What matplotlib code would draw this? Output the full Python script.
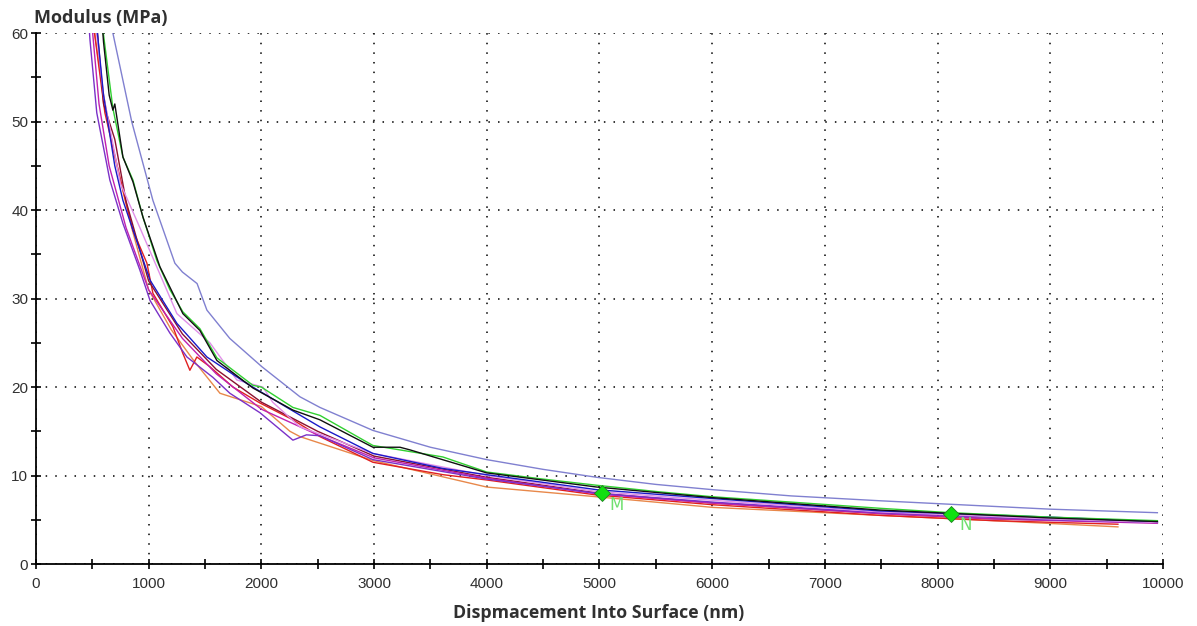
import matplotlib.pyplot as plt
from matplotlib.ticker import MultipleLocator

# curves (x in nm, modulus in MPa)
periwinkle_x = [640, 683, 850, 1038, 1233, 1300, 1430, 1517, 1720, 2005, 2343, 2520, 2990, 3500, 4000, 4500, 4977, 5500, 6007, 6700, 7489, 8200, 9000, 9950]
periwinkle_y = [64, 60, 50, 41.1, 34, 33, 31.7, 28.7, 25.5, 22.3, 18.9, 17.7, 15.1, 13.2, 11.8, 10.7, 9.8, 9.0, 8.4, 7.7, 7.15, 6.7, 6.2, 5.8]

green_x = [560, 595, 683, 772, 861, 950, 1073, 1189, 1304, 1455, 1606, 1925, 2000, 2280, 2520, 2990, 3611, 4000, 4500, 4977, 5500, 6007, 6700, 7489, 8120, 9000, 9950]
green_y = [64, 60.3, 51.5, 46, 43.4, 39.2, 34.3, 31, 28.5, 26.6, 23.3, 20.2, 20.0, 17.7, 16.8, 13.4, 12.1, 10.4, 9.6, 8.9, 8.2, 7.6, 7.0, 6.3, 5.8, 5.3, 4.9]

black_x = [570, 600, 650, 683, 700, 772, 861, 950, 1100, 1304, 1455, 1606, 1925, 2280, 2520, 2990, 3230, 3319, 4000, 4977, 6007, 7489, 9000, 9950]
black_y = [64, 59, 53, 51.3, 52, 46, 43.2, 39.2, 33.6, 28.3, 26.4, 23, 19.9, 17.4, 16.3, 13.2, 13.2, 12.9, 10.3, 8.7, 7.5, 6.1, 5.2, 4.8]

blue_x = [530, 600, 700, 772, 1012, 1251, 1517, 1872, 2227, 2520, 2990, 3611, 4000, 4977, 6007, 7489, 9000, 9950]
blue_y = [62, 53, 45, 41.1, 32.1, 27.2, 23.4, 20.4, 17.7, 15.5, 12.5, 10.8, 10.1, 8.4, 7.4, 6.0, 5.3, 4.8]

purple_x = [470, 480, 540, 656, 772, 923, 1012, 1189, 1340, 1570, 1721, 1988, 2280, 2400, 2520, 2990, 4000, 4977, 6007, 7489, 9000, 9950]
purple_y = [61, 59.2, 51, 43.4, 38.5, 33.2, 29.8, 26.1, 23.4, 21.1, 19.3, 17.1, 14, 14.6, 14.5, 11.8, 9.6, 8.0, 7.0, 5.8, 5.0, 4.7]

violet_x = [520, 600, 750, 923, 1251, 1544, 1783, 2014, 2100, 2343, 2990, 4000, 4977, 6007, 7489, 9000, 9950]
violet_y = [62, 53, 43, 38, 28.3, 25, 20.8, 20, 18.3, 15.5, 12.5, 10.0, 8.2, 7.2, 5.9, 5.1, 4.7]

magenta_x = [500, 560, 650, 800, 1000, 1300, 1600, 2000, 2500, 3000, 4000, 5000, 6000, 7500, 8500, 9950]
magenta_y = [60.5, 52, 45, 38, 31, 25.5, 21.5, 17.5, 14.6, 12.0, 9.7, 7.9, 6.9, 5.7, 5.1, 4.6]

red_x = [500, 524, 612, 683, 772, 861, 985, 1038, 1216, 1304, 1366, 1428, 1544, 1748, 1988, 2280, 2520, 2990, 3611, 4000, 4977, 6007, 7489, 8500, 9600]
red_y = [62, 59.6, 51, 47.1, 42.3, 37.7, 34, 30.6, 26.8, 23.8, 21.9, 23.4, 22.3, 20, 18.2, 16.3, 14.4, 11.5, 10.1, 9.5, 7.8, 6.7, 5.5, 4.9, 4.5]

orange_x = [510, 600, 700, 850, 1000, 1200, 1400, 1633, 2000, 2254, 2343, 2990, 4000, 4977, 6007, 7489, 8500, 9600]
orange_y = [61, 53, 46, 38, 31, 26.5, 23, 19.3, 17.8, 15.0, 14.4, 11.7, 8.7, 7.6, 6.4, 5.5, 4.9, 4.2]

maroon_x = [540, 600, 650, 700, 800, 1000, 1300, 1600, 2000, 2500, 3000, 4000, 5000, 6000, 7500, 8500, 9950]
maroon_y = [61, 52, 50, 48, 41, 32, 26, 22, 18.3, 15, 12.2, 9.8, 8.0, 6.9, 5.7, 5.1, 4.7]

marker_x = [5020, 8120]
marker_y = [8.0, 5.7]
marker_labels = ["M", "N"]

curves = [
    (orange_x, orange_y, "#e8884a"),
    (red_x, red_y, "#e02020"),
    (maroon_x, maroon_y, "#8a1030"),
    (magenta_x, magenta_y, "#c020b0"),
    (purple_x, purple_y, "#7a30c8"),
    (violet_x, violet_y, "#e090e8"),
    (blue_x, blue_y, "#1a1ac8"),
    (green_x, green_y, "#30d030"),
    (black_x, black_y, "#101010"),
    (periwinkle_x, periwinkle_y, "#8080d0"),
]

fig = plt.figure(figsize=(11.97, 6.26), dpi=100)
ax = fig.add_axes([0.030, 0.099, 0.9416, 0.848])

for xs, ys, c in curves:
    ax.plot(xs, ys, color=c, linewidth=1.0)

ax.plot(marker_x, marker_y, linestyle="none", marker="D", markersize=8,
        markerfacecolor="#10e010", markeredgecolor="#208020", markeredgewidth=0.6, zorder=5)
for mx, my, lab in zip(marker_x, marker_y, marker_labels):
    ax.text(mx + 70, my - 0.3, lab, color="#70e070", fontsize=12, va="top", ha="left")

ax.set_xlim(0, 10000)
ax.set_ylim(0, 60)
ax.xaxis.set_major_locator(MultipleLocator(1000))
ax.xaxis.set_minor_locator(MultipleLocator(500))
ax.yaxis.set_major_locator(MultipleLocator(10))
ax.yaxis.set_minor_locator(MultipleLocator(5))

ax.grid(True, which="major", color="black", linestyle=(0, (1, 5.3)), linewidth=1.1)
ax.spines["top"].set_visible(False)
ax.spines["right"].set_visible(False)
ax.spines["left"].set_linewidth(1.3)
ax.spines["bottom"].set_linewidth(1.3)
ax.tick_params(which="major", direction="inout", length=7, width=1.2,
               labelsize=11, labelcolor="#303030", pad=6)
ax.tick_params(which="minor", direction="inout", length=7, width=1.2)
ax.tick_params(axis="y", pad=2)
for lab in ax.get_xticklabels() + ax.get_yticklabels():
    lab.set_family("Liberation Sans")

fig.text(0.028, 0.972, "Modulus (MPa)", fontsize=13, fontweight="bold",
         family="Open Sans", color="#303030", va="center", ha="left")
fig.text(0.5, 0.021, "Dispmacement Into Surface (nm)", fontsize=12.8, fontweight="bold",
         family="Open Sans", color="#303030", va="center", ha="center")

fig.savefig("out.png", dpi=100)
